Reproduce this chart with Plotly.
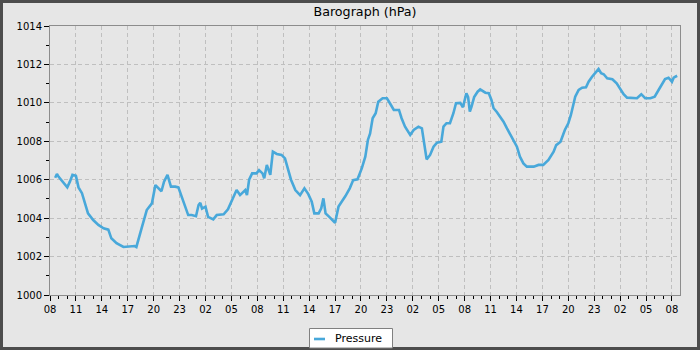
import plotly.graph_objects as go
import pandas as pd

# hours since start (08:00 on day 1) and pressure readings (hPa)
hours = [0.6, 0.8, 1.0, 1.4, 2.0, 2.3, 2.6, 3.0, 3.3, 3.7, 4.05, 4.4, 5.0, 5.6, 6.2, 6.75, 7.1, 7.7, 8.5, 9.26,
         9.8, 10.0, 10.2, 10.6, 11.2, 11.8, 12.2, 12.55, 12.9, 13.2, 13.6, 14.0, 14.5, 14.86, 15.25, 15.6, 16.0,
         16.4, 16.9, 17.2, 17.4, 17.6, 18.0, 18.3, 18.9, 19.3, 20.1, 20.6, 21.0, 21.6, 22.0, 22.6, 22.8, 23.05,
         23.4, 23.9, 24.2, 24.6, 24.8, 25.1, 25.5, 25.8, 26.25, 26.8, 27.2, 27.6, 27.9, 28.4, 28.95, 29.45, 29.9,
         30.3, 30.6, 31.1, 31.4, 31.65, 31.9, 32.3, 32.7, 33.0, 33.4, 33.8, 34.2, 34.7, 35.1, 35.6, 36.1, 36.5,
         36.8, 37.05, 37.35, 37.7, 38.0, 38.5, 39.0, 39.4, 39.8, 40.4, 40.7, 41.1, 41.7, 42.1, 42.65, 43.05, 43.35,
         43.6, 44.0, 44.4, 44.8, 45.3, 45.55, 45.9, 46.3, 46.7, 47.0, 47.5, 47.8, 48.2, 48.4, 48.6, 48.8, 49.1,
         49.5, 49.8, 50.4, 50.8, 51.1, 51.35, 51.7, 52.1, 52.5, 52.9, 53.3, 53.65, 54.05, 54.4, 54.8, 55.2, 56.0,
         56.55, 57.1, 57.7, 58.3, 58.6, 59.1, 59.6, 60.0, 60.3, 60.6, 60.8, 61.2, 61.6, 62.05, 62.35, 62.75, 63.1,
         63.5, 63.8, 64.1, 64.5, 65.1, 65.6, 66.0, 66.4, 66.8, 67.4, 67.95, 68.45, 68.9, 69.5, 70.0, 70.45, 70.85,
         71.2, 71.6, 72.0, 72.2, 72.6]
pressure = [1006.1, 1006.3, 1006.15, 1005.95, 1005.6, 1005.9, 1006.25, 1006.2, 1005.6, 1005.3, 1004.8, 1004.25,
            1003.9, 1003.65, 1003.47, 1003.4, 1002.95, 1002.7, 1002.5, 1002.55, 1002.55, 1002.5, 1002.86, 1003.47,
            1004.42, 1004.77, 1005.72, 1005.55, 1005.4, 1005.9, 1006.25, 1005.64, 1005.64, 1005.6, 1005.1, 1004.68,
            1004.16, 1004.16, 1004.1, 1004.68, 1004.8, 1004.5, 1004.6, 1004.07, 1003.94, 1004.16, 1004.2, 1004.46,
            1004.86, 1005.46, 1005.2, 1005.46, 1005.2, 1006.0, 1006.33, 1006.33, 1006.5, 1006.33, 1006.07, 1006.77,
            1006.25, 1007.46, 1007.34, 1007.29, 1007.11, 1006.5, 1006.0, 1005.46, 1005.2, 1005.55, 1005.25, 1004.86,
            1004.25, 1004.25, 1004.51, 1005.03, 1004.25, 1004.08, 1003.9, 1003.76, 1004.6, 1004.86, 1005.15, 1005.55,
            1005.98, 1006.02, 1006.6, 1007.2, 1008.07, 1008.4, 1009.2, 1009.46, 1010.06, 1010.24, 1010.24, 1009.94,
            1009.63, 1009.63, 1009.2, 1008.76, 1008.33, 1008.59, 1008.76, 1008.67, 1007.72, 1007.06, 1007.29, 1007.72,
            1007.93, 1007.98, 1008.76, 1008.94, 1008.94, 1009.46, 1009.98, 1010.0, 1009.77, 1010.5, 1010.3, 1009.54,
            1009.8, 1010.3, 1010.58, 1010.7, 1010.53, 1010.5, 1010.15, 1009.72, 1009.54, 1009.28, 1009.02, 1008.67,
            1008.33, 1007.98, 1007.72, 1007.2, 1006.85, 1006.68, 1006.68, 1006.77, 1006.77, 1007.03, 1007.46, 1007.8,
            1007.98, 1008.59, 1008.94, 1009.37, 1009.89, 1010.32, 1010.67, 1010.79, 1010.81, 1011.1, 1011.36, 1011.54,
            1011.76, 1011.54, 1011.49, 1011.28, 1011.23, 1011.02, 1010.76, 1010.45, 1010.27, 1010.27, 1010.24,
            1010.45, 1010.24, 1010.24, 1010.32, 1010.67, 1010.97, 1011.24, 1011.31, 1011.1, 1011.31, 1011.41]

start = pd.Timestamp("2024-01-01 08:00")
times = [start + pd.Timedelta(hours=h) for h in hours]

title_text = "Barograph (hPa)"
series_name = "Pressure"
y_ticks = [1000, 1002, 1004, 1006, 1008, 1010, 1012, 1014]

LINE_COLOR = "#48a8da"
BG = "#e6e6e6"

fig = go.Figure()
fig.add_trace(go.Scatter(x=times, y=pressure, mode="lines", name=series_name,
                         line=dict(color=LINE_COLOR, width=2.6), showlegend=False))


# pixel -> paper helpers (plot area: x 50..680, y 26..295)
def px(x):
    return (x - 50) / 630


def py(y):
    return (295 - y) / 269


fig.update_layout(
    width=700, height=350,
    margin=dict(l=50, r=20, t=26, b=55, autoexpand=False),
    paper_bgcolor=BG, plot_bgcolor=BG,
    font=dict(family="DejaVu Sans", size=10, color="#000"),
    title=dict(text=title_text, x=0.5, xref="paper", xanchor="center", y=1 - 12 / 350, yanchor="middle",
               font=dict(family="DejaVu Sans", size=12.7, color="#000")),
    showlegend=False,
    shapes=[
        # outer frame
        dict(type="rect", xref="paper", yref="paper",
             x0=px(1.5), x1=px(698.5), y0=py(348.5), y1=py(1.5),
             line=dict(color="#4d4d4d", width=3), fillcolor="rgba(0,0,0,0)", layer="above"),
        # legend box
        dict(type="rect", xref="paper", yref="paper",
             x0=px(309.5), x1=px(392.5), y0=py(348), y1=py(328.5),
             line=dict(color="#808080", width=1), fillcolor="#ffffff", layer="above"),
        # legend sample line
        dict(type="line", xref="paper", yref="paper",
             x0=px(314), x1=px(325), y0=py(339), y1=py(339),
             line=dict(color=LINE_COLOR, width=2.6), layer="above"),
    ],
    annotations=[
        dict(text=series_name, xref="paper", yref="paper", x=px(333), y=py(338.5),
             xanchor="left", yanchor="middle", showarrow=False,
             font=dict(family="DejaVu Sans", size=11, color="#000")),
    ],
)
fig.update_xaxes(
    type="date",
    range=[start, start + pd.Timedelta(hours=72.93)],
    tick0=start, dtick=3 * 3600 * 1000, tickformat="%H",
    ticks="outside", ticklen=5, tickcolor="#000", tickwidth=1,
    showline=True, linecolor="#8c8c8c", linewidth=1, mirror=True,
    showgrid=True, gridcolor="#bfbfbf", griddash="4px,3px", gridwidth=1,
    zeroline=False,
    minor=dict(dtick=3600 * 1000, ticks="outside", ticklen=3, tickcolor="#000", showgrid=False),
    tickfont=dict(size=10),
)
fig.update_yaxes(
    range=[1000, 1014], tickvals=y_ticks,
    ticks="outside", ticklen=5, tickcolor="#000", tickwidth=1,
    showline=True, linecolor="#8c8c8c", linewidth=1, mirror=True,
    showgrid=True, gridcolor="#bfbfbf", griddash="4px,3px", gridwidth=1,
    zeroline=False,
    minor=dict(dtick=1, ticks="outside", ticklen=3, tickcolor="#000", showgrid=False),
    tickfont=dict(size=10),
)

fig.write_html("out.html")
